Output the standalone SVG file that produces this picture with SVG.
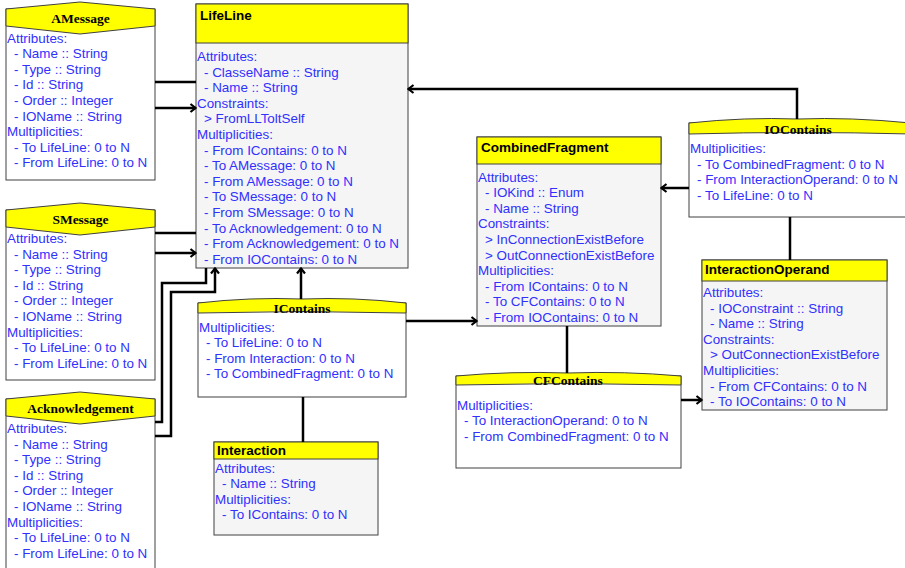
<svg xmlns="http://www.w3.org/2000/svg" width="905" height="568" viewBox="0 0 905 568">
  <defs>
    <marker id="arrow" viewBox="0 0 10 10" refX="8.5" refY="5" markerWidth="10" markerHeight="10" markerUnits="userSpaceOnUse" orient="auto">
      <path d="M3,1 L8,5 L3,9" fill="none" stroke="#000" stroke-width="2.2"/>
    </marker>
    <style>
      .body { fill: #ffffff; stroke: #404040; stroke-width: 1; }
      .cbody { fill: #f5f5f5; stroke: #404040; stroke-width: 1; }
      .head { fill: #ffff00; stroke: #404040; stroke-width: 1; }
      .ctitle { font-family: "Liberation Sans", Arial, sans-serif; font-size: 13.5px; font-weight: bold; fill: #000; }
      .atitle { font-family: "Liberation Serif", "Times New Roman", serif; font-size: 13.5px; font-weight: bold; fill: #000; text-anchor: middle; }
      .txt { font-family: "Liberation Sans", Arial, sans-serif; font-size: 13.4px; fill: #3030ff; }
      .conn { fill: none; stroke: #000; stroke-width: 2.5; }
    </style>
  </defs>
  <rect width="905" height="568" fill="#ffffff"/>

  <!-- association: AMessage -->
  <g id="AMessage">
    <rect class="body" x="6" y="9" width="149" height="171"/>
    <polygon class="head" points="6,9 80,2 155,9 155,26 80,34 6,26"/>
    <text class="atitle" x="80.5" y="23">AMessage</text>
    <text class="txt" y="42.5">
      <tspan x="7">Attributes:</tspan>
      <tspan x="14" dy="15.6">- Name :: String</tspan>
      <tspan x="14" dy="15.6">- Type :: String</tspan>
      <tspan x="14" dy="15.6">- Id :: String</tspan>
      <tspan x="14" dy="15.6">- Order :: Integer</tspan>
      <tspan x="14" dy="15.6">- IOName :: String</tspan>
      <tspan x="7" dy="15.6">Multiplicities:</tspan>
      <tspan x="14" dy="15.6">- To LifeLine: 0 to N</tspan>
      <tspan x="14" dy="15.6">- From LifeLine: 0 to N</tspan>
    </text>
  </g>

  <!-- association: SMessage -->
  <g id="SMessage">
    <rect class="body" x="6" y="210" width="149" height="170"/>
    <polygon class="head" points="6,210 80,203 155,210 155,227 80,235 6,227"/>
    <text class="atitle" x="80.5" y="224">SMessage</text>
    <text class="txt" y="243">
      <tspan x="7">Attributes:</tspan>
      <tspan x="14" dy="15.6">- Name :: String</tspan>
      <tspan x="14" dy="15.6">- Type :: String</tspan>
      <tspan x="14" dy="15.6">- Id :: String</tspan>
      <tspan x="14" dy="15.6">- Order :: Integer</tspan>
      <tspan x="14" dy="15.6">- IOName :: String</tspan>
      <tspan x="7" dy="15.6">Multiplicities:</tspan>
      <tspan x="14" dy="15.6">- To LifeLine: 0 to N</tspan>
      <tspan x="14" dy="15.6">- From LifeLine: 0 to N</tspan>
    </text>
  </g>

  <!-- association: Acknowledgement -->
  <g id="Acknowledgement">
    <rect class="body" x="6" y="399" width="149" height="175"/>
    <polygon class="head" points="6,399 80,392 155,399 155,416 80,424 6,416"/>
    <text class="atitle" x="80.5" y="413">Acknowledgement</text>
    <text class="txt" y="433">
      <tspan x="7">Attributes:</tspan>
      <tspan x="14" dy="15.6">- Name :: String</tspan>
      <tspan x="14" dy="15.6">- Type :: String</tspan>
      <tspan x="14" dy="15.6">- Id :: String</tspan>
      <tspan x="14" dy="15.6">- Order :: Integer</tspan>
      <tspan x="14" dy="15.6">- IOName :: String</tspan>
      <tspan x="7" dy="15.6">Multiplicities:</tspan>
      <tspan x="14" dy="15.6">- To LifeLine: 0 to N</tspan>
      <tspan x="14" dy="15.6">- From LifeLine: 0 to N</tspan>
    </text>
  </g>

  <!-- class: LifeLine -->
  <g id="LifeLine">
    <rect class="cbody" x="196" y="4" width="212" height="264"/>
    <rect class="head" x="196" y="4" width="212" height="39"/>
    <text class="ctitle" x="200" y="20">LifeLine</text>
    <text class="txt" y="61">
      <tspan x="197">Attributes:</tspan>
      <tspan x="204" dy="15.6">- ClasseName :: String</tspan>
      <tspan x="204" dy="15.6">- Name :: String</tspan>
      <tspan x="197" dy="15.6">Constraints:</tspan>
      <tspan x="204" dy="15.6">&gt; FromLLToltSelf</tspan>
      <tspan x="197" dy="15.6">Multiplicities:</tspan>
      <tspan x="204" dy="15.6">- From IContains: 0 to N</tspan>
      <tspan x="204" dy="15.6">- To AMessage: 0 to N</tspan>
      <tspan x="204" dy="15.6">- From AMessage: 0 to N</tspan>
      <tspan x="204" dy="15.6">- To SMessage: 0 to N</tspan>
      <tspan x="204" dy="15.6">- From SMessage: 0 to N</tspan>
      <tspan x="204" dy="15.6">- To Acknowledgement: 0 to N</tspan>
      <tspan x="204" dy="15.6">- From Acknowledgement: 0 to N</tspan>
      <tspan x="204" dy="15.6">- From IOContains: 0 to N</tspan>
    </text>
  </g>

  <!-- association: IContains -->
  <g id="IContains">
    <rect class="body" x="198" y="303" width="208" height="94"/>
    <path class="head" d="M198,303 Q250,297 302,299 Q354,297 406,303 L406,313 Q302,310 198,313 Z"/>
    <text class="atitle" x="302" y="313">IContains</text>
    <text class="txt" y="331.5">
      <tspan x="199">Multiplicities:</tspan>
      <tspan x="206" dy="15.6">- To LifeLine: 0 to N</tspan>
      <tspan x="206" dy="15.6">- From Interaction: 0 to N</tspan>
      <tspan x="206" dy="15.6">- To CombinedFragment: 0 to N</tspan>
    </text>
  </g>

  <!-- class: Interaction -->
  <g id="Interaction">
    <rect class="cbody" x="214" y="442" width="164" height="93"/>
    <rect class="head" x="214" y="442" width="164" height="17"/>
    <text class="ctitle" x="217" y="455">Interaction</text>
    <text class="txt" y="472.5">
      <tspan x="215">Attributes:</tspan>
      <tspan x="222" dy="15.6">- Name :: String</tspan>
      <tspan x="215" dy="15.6">Multiplicities:</tspan>
      <tspan x="222" dy="15.6">- To IContains: 0 to N</tspan>
    </text>
  </g>

  <!-- class: CombinedFragment -->
  <g id="CombinedFragment">
    <rect class="cbody" x="477" y="137" width="184" height="189"/>
    <rect class="head" x="477" y="137" width="184" height="27"/>
    <text class="ctitle" x="481" y="152">CombinedFragment</text>
    <text class="txt" y="181.5">
      <tspan x="478">Attributes:</tspan>
      <tspan x="485" dy="15.6">- IOKind :: Enum</tspan>
      <tspan x="485" dy="15.6">- Name :: String</tspan>
      <tspan x="478" dy="15.6">Constraints:</tspan>
      <tspan x="485" dy="15.6">&gt; InConnectionExistBefore</tspan>
      <tspan x="485" dy="15.6">&gt; OutConnectionExistBefore</tspan>
      <tspan x="478" dy="15.6">Multiplicities:</tspan>
      <tspan x="485" dy="15.6">- From IContains: 0 to N</tspan>
      <tspan x="485" dy="15.6">- To CFContains: 0 to N</tspan>
      <tspan x="485" dy="15.6">- From IOContains: 0 to N</tspan>
    </text>
  </g>

  <!-- association: IOContains -->
  <g id="IOContains">
    <rect class="body" x="689" y="123" width="222" height="94"/>
    <path class="head" d="M689,123 Q745,117 798,119 Q850,117 911,123 L911,134 Q798,131 689,134 Z"/>
    <text class="atitle" x="798" y="134">IOContains</text>
    <text class="txt" y="153">
      <tspan x="690">Multiplicities:</tspan>
      <tspan x="697" dy="15.6">- To CombinedFragment: 0 to N</tspan>
      <tspan x="697" dy="15.6">- From InteractionOperand: 0 to N</tspan>
      <tspan x="697" dy="15.6">- To LifeLine: 0 to N</tspan>
    </text>
  </g>

  <!-- class: InteractionOperand -->
  <g id="InteractionOperand">
    <rect class="cbody" x="702" y="260" width="185" height="150"/>
    <rect class="head" x="702" y="260" width="185" height="21"/>
    <text class="ctitle" x="705" y="274">InteractionOperand</text>
    <text class="txt" y="297">
      <tspan x="703">Attributes:</tspan>
      <tspan x="710" dy="15.6">- IOConstraint :: String</tspan>
      <tspan x="710" dy="15.6">- Name :: String</tspan>
      <tspan x="703" dy="15.6">Constraints:</tspan>
      <tspan x="710" dy="15.6">&gt; OutConnectionExistBefore</tspan>
      <tspan x="703" dy="15.6">Multiplicities:</tspan>
      <tspan x="710" dy="15.6">- From CFContains: 0 to N</tspan>
      <tspan x="710" dy="15.6">- To IOContains: 0 to N</tspan>
    </text>
  </g>

  <!-- association: CFContains -->
  <g id="CFContains">
    <rect class="body" x="456" y="376" width="225" height="92"/>
    <path class="head" d="M456,376 Q512,371 568,373 Q624,371 681,376 L681,385 Q568,382 456,385 Z"/>
    <text class="atitle" x="568" y="385">CFContains</text>
    <text class="txt" y="409.5">
      <tspan x="457">Multiplicities:</tspan>
      <tspan x="464" dy="15.6">- To InteractionOperand: 0 to N</tspan>
      <tspan x="464" dy="15.6">- From CombinedFragment: 0 to N</tspan>
    </text>
  </g>

  <!-- connectors -->
  <g id="connectors">
    <path class="conn" d="M155,82 H196"/>
    <path class="conn" d="M155,108 H196" marker-end="url(#arrow)"/>
    <path class="conn" d="M155,233 H196"/>
    <path class="conn" d="M155,253 H196" marker-end="url(#arrow)"/>
    <path class="conn" d="M155,422 H162 V283 H206 V268"/>
    <path class="conn" d="M155,436 H171 V292 H215 V268" marker-end="url(#arrow)"/>
    <path class="conn" d="M301,299 V268" marker-end="url(#arrow)"/>
    <path class="conn" d="M406,321 H477" marker-end="url(#arrow)"/>
    <path class="conn" d="M303,397 V442"/>
    <path class="conn" d="M689,188 H661" marker-end="url(#arrow)"/>
    <path class="conn" d="M797,119 V89 H408" marker-end="url(#arrow)"/>
    <path class="conn" d="M790,217 V260"/>
    <path class="conn" d="M567,326 V373"/>
    <path class="conn" d="M681,400 H702" marker-end="url(#arrow)"/>
  </g>
</svg>
